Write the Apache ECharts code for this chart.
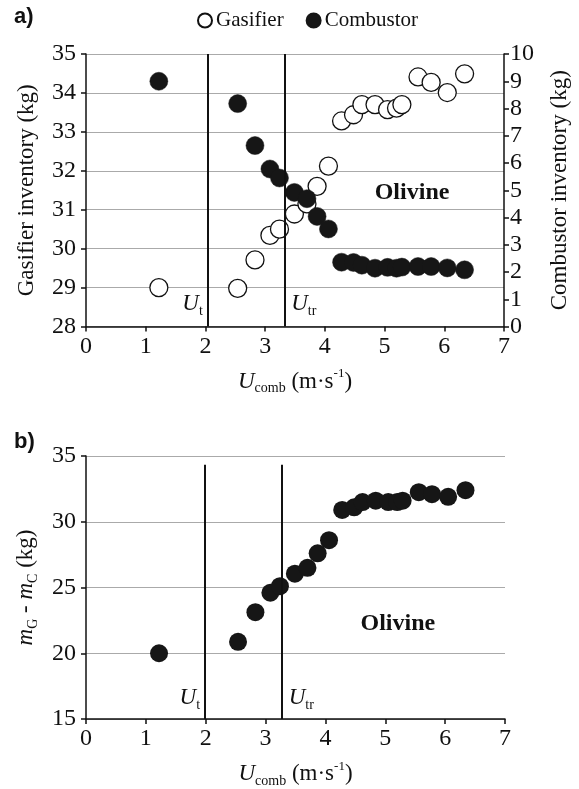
<!DOCTYPE html>
<html>
<head>
<meta charset="utf-8">
<script src="https://cdn.jsdelivr.net/npm/echarts@6/dist/echarts.min.js"></script>
<style>
  html, body { margin: 0; padding: 0; background: #fff; }
  #chart { width: 579px; height: 789px; }
</style>
</head>
<body>
<div id="chart"></div>
<script>
// superficial velocity in the combustor (m/s), same runs for both panels
const uComb = [1.22, 2.54, 2.83, 3.08, 3.24, 3.49, 3.70, 3.87, 4.06, 4.28, 4.48, 4.62, 4.84, 5.05, 5.20, 5.29, 5.56, 5.78, 6.05, 6.34];
const gasifierKg = [29.0, 28.98, 29.71, 30.34, 30.50, 30.89, 31.15, 31.60, 32.12, 33.28, 33.44, 33.70, 33.70, 33.57, 33.61, 33.70, 34.41, 34.27, 34.01, 34.49];
const combustorKg = [9.0, 8.18, 6.64, 5.78, 5.45, 4.92, 4.69, 4.04, 3.58, 2.36, 2.35, 2.25, 2.14, 2.17, 2.14, 2.18, 2.20, 2.20, 2.15, 2.08];
const diffKg = [20.0, 20.87, 23.12, 24.6, 25.1, 26.05, 26.5, 27.6, 28.6, 30.9, 31.1, 31.5, 31.6, 31.5, 31.5, 31.6, 32.25, 32.1, 31.9, 32.4];
// U_t and U_tr lines as they sit in each panel
const limitsA = [2.04, 3.32];
const limitsB = [1.99, 3.27];

const serif = '"Liberation Serif", "Times New Roman", serif';
const pairs = (xs, ys) => xs.map((x, i) => [x, ys[i]]);

const rich = {
  n: { fontFamily: serif, fontSize: 23, color: '#111', lineHeight: 28 },
  i: { fontFamily: serif, fontSize: 23, fontStyle: 'italic', color: '#111', lineHeight: 28 },
  sub: { fontFamily: serif, fontSize: 14, color: '#111', lineHeight: 14, verticalAlign: 'bottom' },
  sup: { fontFamily: serif, fontSize: 13, color: '#111', lineHeight: 13, verticalAlign: 'top' }
};
const labelText = { fontFamily: serif, fontSize: 24, color: '#111' };
const axisLine = { show: true, lineStyle: { color: '#111', width: 1.5 } };
const axisTick = { show: true, length: 5, lineStyle: { color: '#111', width: 1.5 } };
const gridLine = { show: true, lineStyle: { color: '#aaa', width: 1 } };

function xAxisFor(gridIndex) {
  return {
    type: 'value', gridIndex: gridIndex, min: 0, max: 7, interval: 1,
    axisLine: axisLine, axisTick: axisTick, splitLine: { show: false },
    axisLabel: Object.assign({ margin: 8 }, labelText),
    name: '{i|U}{sub|comb}{n| (m·s}{sup|-1}{n|)}',
    nameLocation: 'middle', nameGap: 41,
    nameTextStyle: { rich: rich }
  };
}

function vLines(xs, top, bottom) {
  return {
    silent: true, symbol: ['none', 'none'], animation: false,
    label: { show: false },
    lineStyle: { color: '#111', width: 2, type: 'solid' },
    data: xs.map(x => [{ coord: [x, bottom] }, { coord: [x, top] }])
  };
}

function notes(utX, utrX, y, olivine) {
  const base = { symbol: 'circle', symbolSize: 0 };
  return {
    silent: true, animation: false,
    data: [
      Object.assign({ coord: [utX, y], label: { show: true, position: 'left', distance: 5, formatter: '{i|U}{sub|t}', rich: rich } }, base),
      Object.assign({ coord: [utrX, y], label: { show: true, position: 'right', distance: 7, formatter: '{i|U}{sub|tr}', rich: rich } }, base),
      Object.assign({ coord: olivine, label: { show: true, position: 'inside', formatter: 'Olivine', fontFamily: serif, fontSize: 24, fontWeight: 'bold', color: '#111' } }, base)
    ]
  };
}

const chart = echarts.init(document.getElementById('chart'));
chart.setOption({
  animation: false,
  backgroundColor: '#fff',
  legend: {
    left: 192, top: 5, itemWidth: 14, itemHeight: 14, itemGap: 22,
    icon: 'circle',
    textStyle: { fontFamily: serif, fontSize: 21, color: '#111', padding: [0, 0, 0, -1] },
    data: ['Gasifier', 'Combustor']
  },
  graphic: [
    { type: 'text', left: 14, top: 6, style: { text: 'a)', font: 'bold 22px "Liberation Sans", Arial, sans-serif', fill: '#111' } },
    { type: 'text', left: 14, top: 431, style: { text: 'b)', font: 'bold 22px "Liberation Sans", Arial, sans-serif', fill: '#111' } }
  ],
  grid: [
    { left: 86, right: 73, top: 54, height: 272.5 },
    { left: 86, right: 74, top: 456, height: 267.3 }
  ],
  xAxis: [xAxisFor(0), xAxisFor(1)],
  yAxis: [
    {
      type: 'value', gridIndex: 0, min: 28, max: 35, interval: 1,
      axisLine: axisLine, axisTick: axisTick, splitLine: gridLine,
      axisLabel: Object.assign({ margin: 10 }, labelText),
      name: 'Gasifier inventory (kg)', nameLocation: 'middle', nameGap: 48, nameRotate: 90,
      nameTextStyle: { fontFamily: serif, fontSize: 23, color: '#111' }
    },
    {
      type: 'value', gridIndex: 0, position: 'right', min: 0, max: 10, interval: 1,
      axisLine: axisLine, axisTick: axisTick, splitLine: { show: false },
      axisLabel: Object.assign({ margin: 6 }, labelText),
      name: 'Combustor inventory (kg)', nameLocation: 'middle', nameGap: 44, nameRotate: 90,
      nameTextStyle: { fontFamily: serif, fontSize: 23, color: '#111' }
    },
    {
      type: 'value', gridIndex: 1, min: 15, max: 35, interval: 5,
      axisLine: axisLine, axisTick: axisTick, splitLine: gridLine,
      axisLabel: Object.assign({ margin: 10 }, labelText),
      name: '{i|m}{sub|G}{n| - }{i|m}{sub|C}{n| (kg)}', nameLocation: 'middle', nameGap: 46, nameRotate: 90,
      nameTextStyle: { rich: rich }
    }
  ],
  series: [
    {
      name: 'Gasifier', type: 'scatter', xAxisIndex: 0, yAxisIndex: 0,
      symbolSize: 18,
      itemStyle: { color: '#fff', borderColor: '#111', borderWidth: 1.3, opacity: 1 },
      data: pairs(uComb, gasifierKg),
      markLine: vLines(limitsA, 35, 28),
      markPoint: notes(limitsA[0], limitsA[1], 28.58, [5.46, 31.44])
    },
    {
      name: 'Combustor', type: 'scatter', xAxisIndex: 0, yAxisIndex: 1,
      symbolSize: 18,
      itemStyle: { color: '#161616', borderColor: '#161616', borderWidth: 0.5, opacity: 1 },
      data: pairs(uComb, combustorKg)
    },
    {
      name: 'Difference', type: 'scatter', xAxisIndex: 1, yAxisIndex: 2,
      symbolSize: 18,
      itemStyle: { color: '#161616', opacity: 1 },
      data: pairs(uComb, diffKg),
      markLine: vLines(limitsB, 34.33, 15),
      markPoint: notes(limitsB[0], limitsB[1], 16.6, [5.21, 22.23])
    }
  ]
});
</script>
</body>
</html>
